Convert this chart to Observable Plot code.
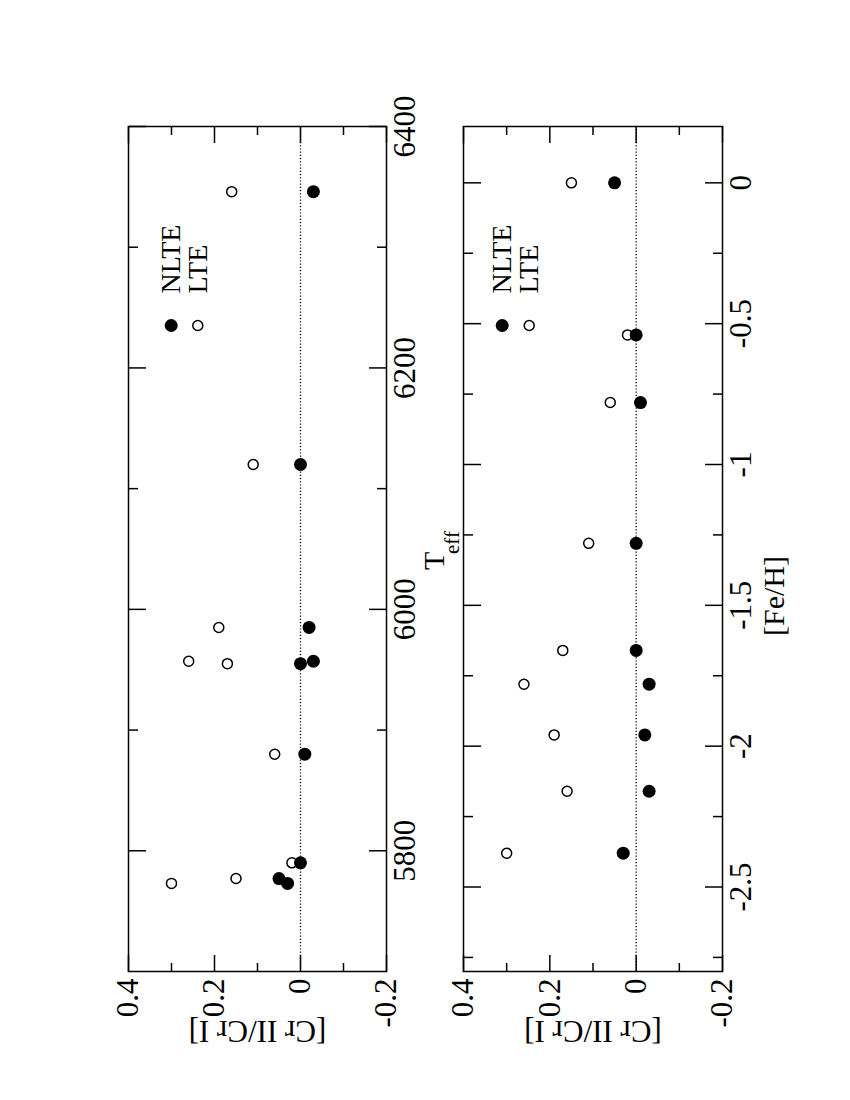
<!DOCTYPE html>
<html>
<head>
<meta charset="utf-8">
<script src="https://cdn.jsdelivr.net/npm/d3@7"></script>
<script src="https://cdn.jsdelivr.net/npm/@observablehq/plot@0.6"></script>
<style>
html, body { margin: 0; padding: 0; overflow: hidden; background: #fff; }
#fig {
  position: absolute; left: 0; top: 0; width: 1100px; height: 850px;
  transform-origin: 0 0;
  transform: translate(0px, 1100px) rotate(-90deg);
  background: #fff;
}
#fig svg { display: block; font-family: 'Liberation Serif', 'Times New Roman', Times, serif !important; }
#fig svg text { font-family: 'Liberation Serif', 'Times New Roman', Times, serif !important; font-variant: normal !important; }
</style>
</head>
<body>
<div id="fig"></div>
<script>
// ---- data (one entry per star) ----
const teff = [6346, 6120, 5985, 5957, 5955, 5880, 5790, 5777, 5773];
const feh  = [-2.16, -1.28, -1.96, -1.78, -1.66, -0.78, -0.54, 0.0, -2.38];
const nlte = [-0.03, 0.00, -0.02, -0.03, 0.00, -0.01, 0.00, 0.05, 0.03];
const lte  = [0.16, 0.11, 0.19, 0.26, 0.17, 0.06, 0.02, 0.15, 0.30];

// ---- ticks and labels ----
const ratioMajor = [0.4, 0.2, 0, -0.2];
const ratioMinor = [0.3, 0.1, -0.1];
const teffMajor = [5800, 6000, 6200, 6400];
const teffMinor = [5900, 6100, 6300];
const fehMajor = [0, -0.5, -1, -1.5, -2, -2.5];
const fehMinor = [-0.25, -0.75, -1.25, -1.75, -2.25, -2.75];
const ratioLabel = "[Cr II/Cr I]";
const fehLabel = "[Fe/H]";
const teffLabelMain = "T";
const teffLabelSub = "eff";
const seriesNames = ["NLTE", "LTE"];

const stars = teff.map((t, i) => ({teff: t, feh: feh[i], nlte: nlte[i], lte: lte[i]}));
const fmt = d => String(d);
const FONT = "'Liberation Serif', 'Times New Roman', Times, serif";

function frameTicks(xMajor, xMinor) {
  const c = {label: null, fill: "none", strokeWidth: 1.5};
  return [
    Plot.axisX(xMajor, {...c, anchor: "bottom", tickSize: -17}),
    Plot.axisX(xMajor, {...c, anchor: "top", tickSize: -17}),
    Plot.axisX(xMinor, {...c, anchor: "bottom", tickSize: -9}),
    Plot.axisX(xMinor, {...c, anchor: "top", tickSize: -9}),
    Plot.axisY(ratioMajor, {...c, anchor: "left", tickSize: -17}),
    Plot.axisY(ratioMajor, {...c, anchor: "right", tickSize: -17}),
    Plot.axisY(ratioMinor, {...c, anchor: "left", tickSize: -9}),
    Plot.axisY(ratioMinor, {...c, anchor: "right", tickSize: -9})
  ];
}

function legend(dy0, dy1) {
  return [
    Plot.dot([seriesNames[0]], {x: null, y: null, frameAnchor: "top-right", dx: -199, dy: dy0, r: 6.5, fill: "black"}),
    Plot.dot([seriesNames[1]], {x: null, y: null, frameAnchor: "top-right", dx: -199, dy: dy1, r: 5, fill: "white", stroke: "black", strokeWidth: 1.5}),
    Plot.text([seriesNames[0]], {frameAnchor: "top-right", dx: -167, dy: dy0, text: d => d, textAnchor: "start", lineAnchor: "middle", fontSize: 28, fontFamily: FONT}),
    Plot.text([seriesNames[1]], {frameAnchor: "top-right", dx: -167, dy: dy1, text: d => d, textAnchor: "start", lineAnchor: "middle", fontSize: 28, fontFamily: FONT})
  ];
}

function common(xKey) {
  return [
    Plot.frame({stroke: "black", strokeWidth: 1.5}),
    Plot.ruleY([0], {stroke: "black", strokeWidth: 1.3, strokeDasharray: "1.2,2"}),
    Plot.dot(stars, {x: xKey, y: "lte", r: 5, fill: "white", stroke: "black", strokeWidth: 1.5}),
    Plot.dot(stars, {x: xKey, y: "nlte", r: 6.5, fill: "black"}),
    Plot.axisY(ratioMajor, {anchor: "left", tickSize: 0, tickPadding: 7, tickFormat: fmt, fontSize: 31, fontFamily: FONT,
      label: ratioLabel, labelAnchor: "center", labelOffset: 72, labelArrow: false})
  ];
}

const p1 = Plot.plot({
  width: 1100, height: 462,
  marginTop: 128, marginBottom: 76, marginLeft: 128, marginRight: 127,
  style: {fontFamily: FONT, fontSize: "30px", color: "black", background: "white", overflow: "visible"},
  x: {domain: [5700, 6400]},
  y: {domain: [-0.2, 0.4]},
  marks: [
    ...common("teff"),
    ...frameTicks(teffMajor, teffMinor),
    Plot.axisX(teffMajor, {anchor: "bottom", tickSize: 0, tickPadding: 6, tickFormat: fmt, fontSize: 31, fontFamily: FONT, label: null}),
    Plot.text([teffLabelMain], {frameAnchor: "bottom", dx: -21, dy: 57, text: d => d, textAnchor: "start", lineAnchor: "bottom", fontSize: 30, fontFamily: FONT}),
    Plot.text([teffLabelSub], {frameAnchor: "bottom", dx: -5, dy: 72, text: d => d, textAnchor: "start", lineAnchor: "bottom", fontSize: 21, fontFamily: FONT}),
    ...legend(42.7, 69.3)
  ]
});

const p2 = Plot.plot({
  width: 1100, height: 388,
  marginTop: 1, marginBottom: 128, marginLeft: 128, marginRight: 127,
  style: {fontFamily: FONT, fontSize: "30px", color: "black", background: "white", overflow: "visible"},
  x: {domain: [-2.8, 0.2]},
  y: {domain: [-0.2, 0.4]},
  marks: [
    ...common("feh"),
    ...frameTicks(fehMajor, fehMinor),
    Plot.axisX(fehMajor, {anchor: "bottom", tickSize: 0, tickPadding: 6, tickFormat: fmt, fontSize: 31, fontFamily: FONT, label: null}),
    Plot.text([fehLabel], {frameAnchor: "bottom", dx: -47, dy: 40, text: d => d, lineAnchor: "top", fontSize: 30, fontFamily: FONT}),
    ...legend(38.7, 65.7)
  ]
});

const fig = document.getElementById("fig");
fig.appendChild(p1);
fig.appendChild(p2);
</script>
</body>
</html>
